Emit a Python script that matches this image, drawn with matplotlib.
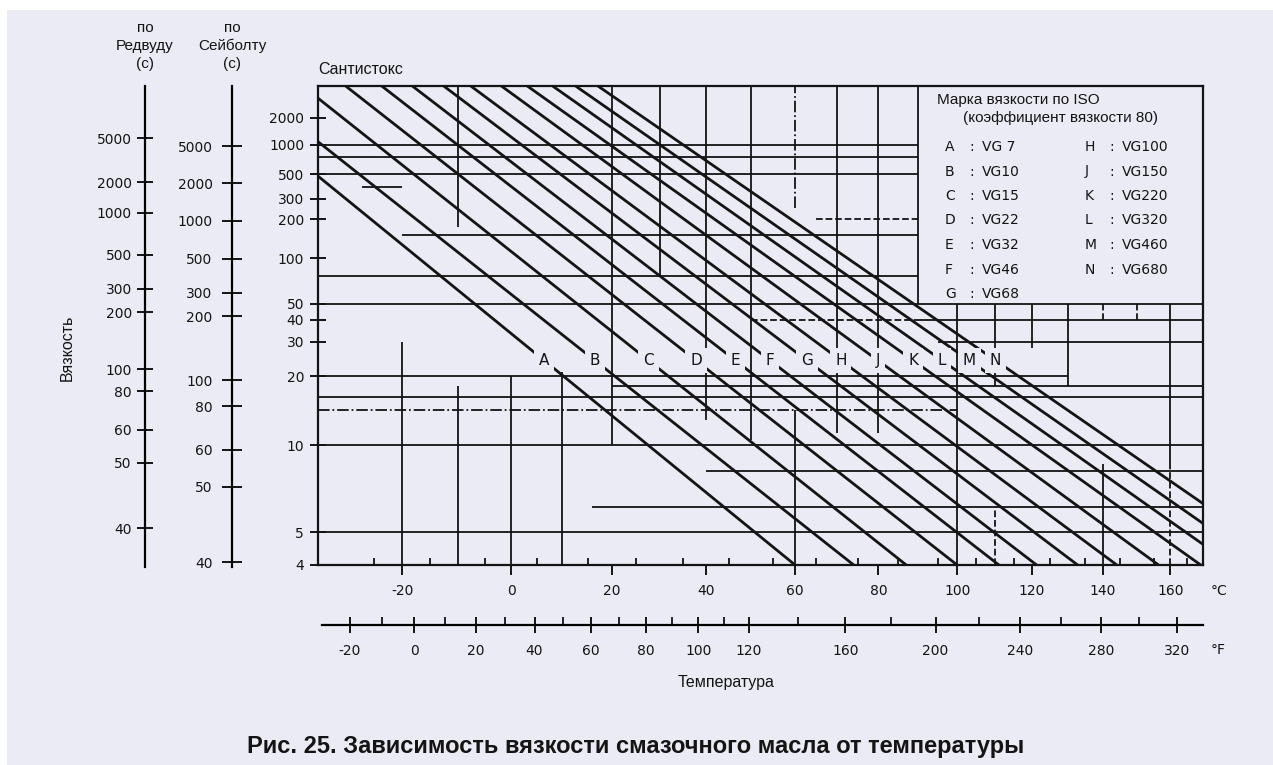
import numpy as np
import matplotlib
matplotlib.use('Agg')
import matplotlib.pyplot as plt
from matplotlib.patches import Rectangle
from matplotlib.ticker import FixedLocator, NullLocator

W, H = 1273, 765
BG = '#EBEBF5'
INK = '#141414'
plt.rcParams['font.family'] = ['Liberation Sans', 'DejaVu Sans']

# ISO VG lines, viscosity in cSt at 40 C and 100 C
marks = ['A', 'B', 'C', 'D', 'E', 'F', 'G', 'H', 'J', 'K', 'L', 'M', 'N']
grades = ['VG 7', 'VG10', 'VG15', 'VG22', 'VG32', 'VG46', 'VG68',
          'VG100', 'VG150', 'VG220', 'VG320', 'VG460', 'VG680']
nu40 = [6.7, 9.7, 14.5, 21.8, 31.5, 44.6, 66, 96, 148, 223, 326, 470, 680]
nu100 = [1.93, 2.48, 3.12, 4.0, 4.98, 6.14, 7.8, 9.88, 12.9, 16.9, 21.2, 26.5, 33.2]
label_nu = 24  # level where the letters sit on the lines

cst_ticks = [2000, 1000, 500, 300, 200, 100, 50, 40, 30, 20, 10, 5, 4]
temp_ticks = [-20, 0, 20, 40, 60, 80, 100, 120, 140, 160]
temp_minor = [-25, -15, -5, 5, 15, 25, 35, 45, 55, 65, 75, 85, 95, 105, 115, 125, 135, 145, 155, 165]
fahr_ticks = [-20, 0, 20, 40, 60, 80, 100, 120, 160, 200, 240, 280, 320]
fahr_minor = [-10, 10, 30, 50, 70, 90, 110, 140, 180, 220, 260, 300]

# second scales (seconds) and the cSt level each tick sits at
redwood_labels = [5000, 2000, 1000, 500, 300, 200, 100, 80, 60, 50, 40]
redwood_cst = [1185, 425, 229, 107, 62.7, 45, 22, 17.2, 11.7, 8.7, 5.2]
saybolt_labels = [5000, 2000, 1000, 500, 300, 200, 100, 80, 60, 50, 40]
saybolt_cst = [972, 416, 197, 100.6, 59.2, 42.6, 19.4, 14.7, 9.75, 7.13, 4.13]

# printed grid: horizontal (cSt, from C, to C, style), vertical (C, from cSt, to cSt, style)
h_grid = [(1000, -34.5, 90, '-'), (750, -34.5, 90, '-'), (500, -34.5, 90, '-'),
          (380, -27, -20, '-'), (200, 65, 90, '--'), (150, -20, 90, '-'),
          (75, -34.5, 90, '-'), (50, -34.5, 170, '-'), (40, 50, 90, '--'),
          (40, 90, 170, '-'), (30, 95, 170, '-'), (20, -34.5, 130, '-'),
          (18, 20, 170, '-'), (16, -34.5, 170, '-'), (14, -34.5, 100, '-.'),
          (10, -34.5, 170, '-'), (8, 40, 170, '-'), (6, 16, 170, '-'),
          (5, -34.5, 170, '-')]
v_grid = [(-20, 4, 30, '-'), (-10, 4, 18, '-'), (-10, 173, 5000, '-'),
          (0, 4, 20, '-'), (10, 4, 21, '-'), (20, 10, 5000, '-'),
          (30, 75, 5000, '-'), (40, 12.7, 5000, '-'), (50, 10.5, 5000, '-'),
          (60, 4, 14, '-'), (60, 250, 5000, '-.'), (70, 11.2, 5000, '-'),
          (80, 11.2, 5000, '-'), (90, 50, 5000, '-'), (100, 4, 50, '-'),
          (110, 18, 50, '-'), (110, 4, 6, '--'), (120, 28, 50, '-'),
          (130, 18, 50, '-'), (140, 4, 8.5, '-'), (140, 40, 50, '--'),
          (150, 40, 50, '--'), (160, 8.5, 50, '-'), (160, 4, 8.5, '--')]


def t_fwd(t):
    with np.errstate(invalid='ignore', divide='ignore'):
        return np.log10(np.asarray(t, float) + 273.15)


def t_inv(u):
    return 10 ** np.asarray(u, float) - 273.15


def f_fwd(f):
    with np.errstate(invalid='ignore', divide='ignore'):
        return np.log10((np.asarray(f, float) - 32) / 1.8 + 273.15)


def f_inv(u):
    return (10 ** np.asarray(u, float) - 273.15) * 1.8 + 32


def v_fwd(v):
    with np.errstate(invalid='ignore', divide='ignore'):
        return np.log10(np.log10(np.asarray(v, float) + 0.7))


def v_inv(w):
    return 10 ** (10 ** np.asarray(w, float)) - 0.7


def fx(px):
    return px / W


def fy(py):
    return 1 - py / H


fig = plt.figure(figsize=(W / 100, H / 100), dpi=100, facecolor='white')
fig.patches.append(Rectangle((fx(7), 0), 1, fy(10),
                             transform=fig.transFigure, facecolor=BG,
                             edgecolor='none', zorder=-10))

ax = fig.add_axes([fx(318), fy(565), (1203 - 318) / W, (565 - 86) / H])
ax.set_facecolor('none')
ax.set_xscale('function', functions=(t_fwd, t_inv))
ax.set_yscale('function', functions=(v_fwd, v_inv))
ax.set_xlim(-34.5, 170)
ax.set_ylim(4, 5000)
for s in ax.spines.values():
    s.set_linewidth(1.6)
    s.set_color(INK)

for nu, t0, t1, ls in h_grid:
    ax.hlines(nu, t0, t1, colors=INK, linewidth=1.3, linestyles=ls, zorder=2)
for t, n0, n1, ls in v_grid:
    ax.vlines(t, n0, n1, colors=INK, linewidth=1.3, linestyles=ls, zorder=2)

u40, u100 = t_fwd(40), t_fwd(100)
for m, a, b in zip(marks, nu40, nu100):
    ax.axline((40, a), (100, b), color=INK, linewidth=2.0, zorder=3)
    va, vb = v_fwd(a), v_fwd(b)
    u_lab = u40 + (v_fwd(label_nu) - va) * (u100 - u40) / (vb - va)
    ax.text(t_inv(u_lab), label_nu, m, ha='center', va='center', fontsize=11,
            family='DejaVu Sans', color=INK, zorder=5,
            bbox=dict(facecolor=BG, edgecolor='none', pad=3.5))

ax.xaxis.set_major_locator(FixedLocator(temp_ticks))
ax.xaxis.set_minor_locator(FixedLocator(temp_minor))
ax.set_xticklabels([str(t) for t in temp_ticks])
ax.yaxis.set_major_locator(FixedLocator(cst_ticks))
ax.yaxis.set_minor_locator(NullLocator())
ax.set_yticklabels([str(v) for v in cst_ticks])
ax.tick_params(axis='x', which='major', direction='out', length=7, width=1.4,
               pad=7, labelsize=10, labelfontfamily='DejaVu Sans', colors=INK)
ax.tick_params(axis='x', which='minor', direction='in', length=5, width=1.2)
ax.tick_params(axis='y', which='major', direction='inout', length=12, width=1.4,
               pad=4, labelsize=10, labelfontfamily='DejaVu Sans', colors=INK)

# Fahrenheit scale under the Celsius one
axf = fig.add_axes([fx(322), fy(625), (1203 - 322) / W, 0.0001])
axf.set_facecolor('none')
axf.set_xscale('function', functions=(f_fwd, f_inv))
axf.set_xlim(-28.4, 334.3)
for s in ['top', 'left', 'right']:
    axf.spines[s].set_visible(False)
axf.spines['bottom'].set_linewidth(1.6)
axf.set_yticks([])
axf.xaxis.set_major_locator(FixedLocator(fahr_ticks))
axf.xaxis.set_minor_locator(FixedLocator(fahr_minor))
axf.set_xticklabels([str(f) for f in fahr_ticks])
axf.tick_params(axis='x', which='major', direction='inout', length=12, width=1.4,
                pad=8, labelsize=10, labelfontfamily='DejaVu Sans', colors=INK)
axf.tick_params(axis='x', which='minor', direction='in', length=6, width=1.2)

# Redwood and Saybolt scales on the left
for xpx, labs, cst, tlen, tpad in [(145, redwood_labels, redwood_cst, 11, 4),
                                   (232, saybolt_labels, saybolt_cst, 14, 7)]:
    a = fig.add_axes([fx(xpx), fy(567), 0.0001, (567 - 86) / H])
    a.set_facecolor('none')
    a.set_yscale('function', functions=(v_fwd, v_inv))
    a.set_ylim(4, 5000)
    for s in ['top', 'right', 'bottom']:
        a.spines[s].set_visible(False)
    a.spines['left'].set_linewidth(1.6)
    a.set_xticks([])
    a.yaxis.set_major_locator(FixedLocator(cst))
    a.yaxis.set_minor_locator(NullLocator())
    a.set_yticklabels([str(v) for v in labs])
    a.tick_params(axis='y', direction='inout', length=tlen, width=1.4, pad=tpad,
                  labelsize=10, labelfontfamily='DejaVu Sans', colors=INK)

fig.text(fx(145), fy(46), 'по\nРедвуду\n(с)', ha='center', va='center',
         fontsize=11, linespacing=1.35, color=INK)
fig.text(fx(232), fy(46), 'по\nСейболту\n(с)', ha='center', va='center',
         fontsize=11, linespacing=1.35, color=INK)
fig.text(fx(318), fy(70), 'Сантистокс', ha='left', va='center', fontsize=11.5, color=INK)
fig.text(fx(67), fy(348), 'Вязкость', ha='center', va='center', rotation=90,
         fontsize=11.5, color=INK)
fig.text(fx(726), fy(682), 'Температура', ha='center', va='center', fontsize=11.5, color=INK)
fig.text(fx(1211), fy(591), '°C', ha='left', va='center', fontsize=10,
         family='DejaVu Sans', color=INK)
fig.text(fx(1211), fy(650), '°F', ha='left', va='center', fontsize=10,
         family='DejaVu Sans', color=INK)

# legend block inside the chart
fig.text(fx(937), fy(100), 'Марка вязкости по ISO', ha='left', va='center',
         fontsize=11, color=INK)
fig.text(fx(963), fy(118), '(коэффициент вязкости 80)', ha='left', va='center',
         fontsize=11, color=INK)
for i, (m, g) in enumerate(zip(marks, grades)):
    col, row = divmod(i, 7)
    x0 = 945 + col * 140
    y0 = 147 + row * 24.5
    fig.text(fx(x0), fy(y0), m, ha='left', va='center', fontsize=10,
             family='DejaVu Sans', color=INK)
    fig.text(fx(x0 + 24), fy(y0), ':', ha='left', va='center', fontsize=10,
             family='DejaVu Sans', color=INK)
    fig.text(fx(x0 + 37), fy(y0), g, ha='left', va='center', fontsize=10,
             family='DejaVu Sans', color=INK)

fig.text(fx(636), fy(746), 'Рис. 25. Зависимость вязкости смазочного масла от температуры',
         ha='center', va='center', fontsize=17, fontweight='bold', color=INK)

fig.savefig('out.png', dpi=100, facecolor=fig.get_facecolor())
